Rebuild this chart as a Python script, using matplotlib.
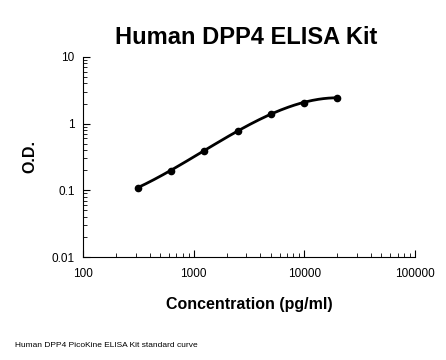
import matplotlib.pyplot as plt
import numpy as np
from matplotlib.ticker import FuncFormatter, LogLocator

plt.rcParams['font.family'] = ['Liberation Sans', 'DejaVu Sans']

# standard curve points
conc = [312.5, 625, 1250, 2500, 5000, 10000, 20000]
od = [0.110, 0.198, 0.394, 0.78, 1.39, 2.06, 2.45]

# fitted trend line (cubic in log-log space)
lx = np.log10(conc)
ly = np.log10(od)
coef = np.polyfit(lx, ly, 3)
xs = np.linspace(lx[0], lx[-1], 200)
ys = np.polyval(coef, xs)

fig = plt.figure(figsize=(4.46, 3.6), dpi=100)
ax = fig.add_axes([0.186, 0.286, 0.744, 0.556])

ax.plot(10 ** xs, 10 ** ys, color='black', linewidth=2)
ax.plot(conc, od, 'o', color='black', markersize=4.5)

ax.set_xscale('log')
ax.set_yscale('log')
ax.set_xlim(100, 100000)
ax.set_ylim(0.01, 10)

fmt = FuncFormatter(lambda v, p: '%g' % v)
ax.xaxis.set_major_formatter(fmt)
ax.yaxis.set_major_formatter(fmt)
ax.xaxis.set_minor_locator(LogLocator(base=10, subs=np.arange(2, 10)))
ax.yaxis.set_minor_locator(LogLocator(base=10, subs=np.arange(2, 10)))
ax.xaxis.set_minor_formatter(plt.NullFormatter())
ax.yaxis.set_minor_formatter(plt.NullFormatter())

ax.spines['top'].set_visible(False)
ax.spines['right'].set_visible(False)
ax.tick_params(which='major', direction='in', length=5, labelsize=8.5, pad=8)
ax.tick_params(which='minor', direction='in', length=3)
ax.tick_params(axis='y', pad=6)

fig.text(0.552, 0.895, 'Human DPP4 ELISA Kit', fontsize=17, fontweight='bold',
         ha='center', va='center')
ax.set_xlabel('Concentration (pg/ml)', fontsize=11.5, fontweight='bold', labelpad=12)
ax.set_ylabel('O.D.', fontsize=11.5, fontweight='bold', labelpad=10)

fig.text(0.033, 0.037, 'Human DPP4 PicoKine ELISA Kit standard curve', fontsize=6)

fig.savefig('out.png', dpi=100)
